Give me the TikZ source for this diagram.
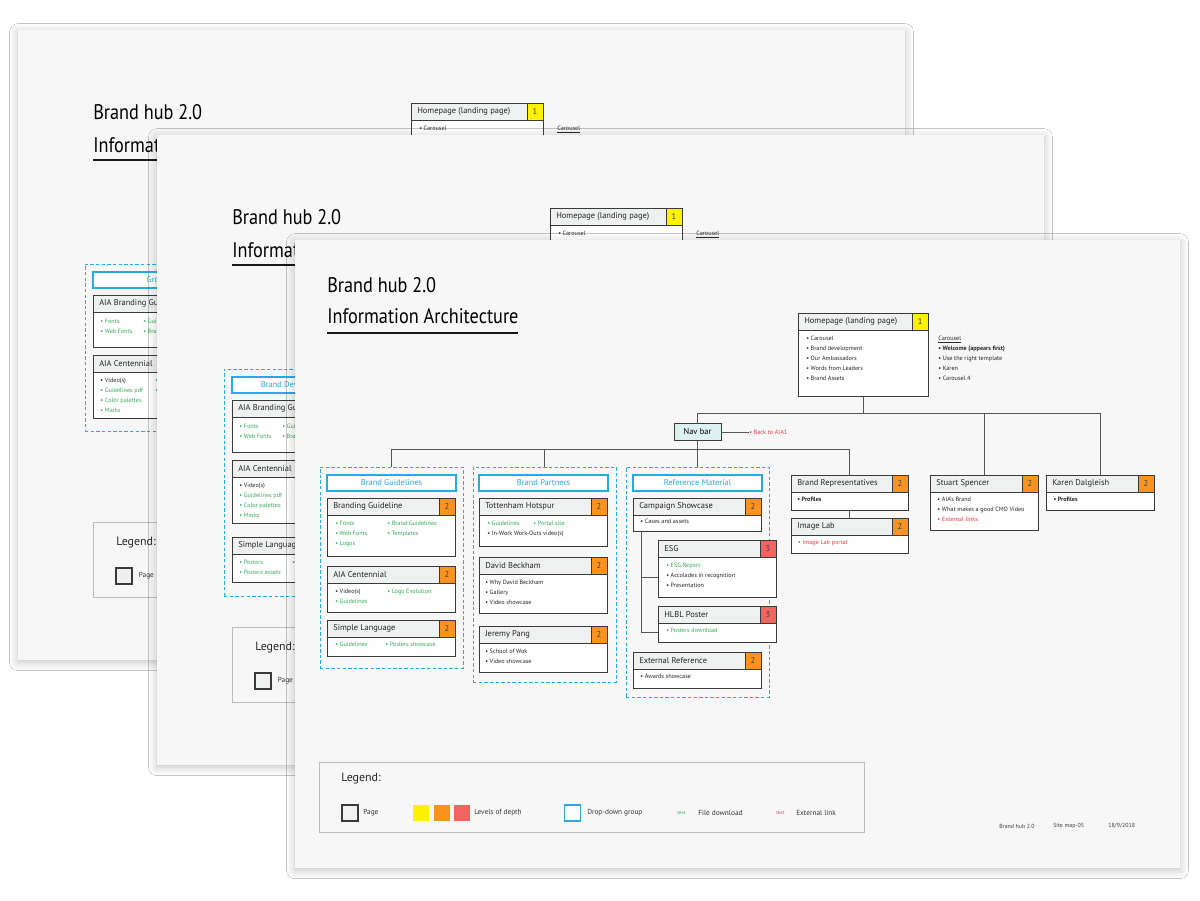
\documentclass[tikz,border=0pt]{standalone}
\usepackage{fontspec}
\setmainfont{PT Sans}
\newfontfamily\titlefont[FakeStretch=0.865]{PT Sans}
\usetikzlibrary{positioning, shadows.blur}

\definecolor{sheetgray}{HTML}{F7F7F7}
\definecolor{headgray}{HTML}{EFF0F0}
\definecolor{pgline}{HTML}{3A3A3A}
\definecolor{connline}{HTML}{555555}
\definecolor{lvlone}{HTML}{FFF200}
\definecolor{lvltwo}{HTML}{F7931E}
\definecolor{lvlthree}{HTML}{F26460}
\definecolor{ddcyan}{HTML}{29ABE2}
\definecolor{navcyan}{HTML}{DDF1F3}
\definecolor{dlgreen}{HTML}{39A85A}
\definecolor{extred}{HTML}{EE3B45}
\definecolor{legline}{HTML}{BDBDBD}

\newcommand{\filedl}[1]{\textcolor{dlgreen}{#1}}
\newcommand{\extlink}[1]{\textcolor{extred}{#1}}

\tikzset{
  sheetshadow/.style={blur shadow={shadow xshift=0pt, shadow yshift=-1.5pt, shadow blur radius=6pt, shadow opacity=25}},
  titletext/.style={anchor=west, inner sep=0pt, font=\titlefont\fontsize{15}{18}\selectfont, text=black},
  titlebar/.style={line width=2pt, draw=black!90},
  pghead/.style={draw=pgline, fill=headgray, line width=0.7pt, outer sep=0pt, inner sep=0pt, minimum height=0.425cm},
  pgtitle/.style={anchor=west, inner xsep=0.15cm, inner ysep=0pt, font=\fontsize{6}{7}\selectfont, text=black!85},
  lvlcell/.style={draw=pgline, line width=0.7pt, outer sep=0pt, inner sep=0pt, minimum width=0.4cm, minimum height=0.425cm, font=\fontsize{6}{7}\selectfont, text=black!75},
  pgbody/.style={draw=pgline, fill=white, line width=0.7pt, outer sep=0pt, inner sep=0pt},
  items/.style={align=left, inner sep=0pt, font=\fontsize{4.4}{7.1}\selectfont, text=black!85},
  ddgroup/.style={draw=ddcyan, line width=0.7pt, dash pattern=on 2.4pt off 1.6pt, inner sep=0pt, outer sep=0pt},
  ddhead/.style={draw=ddcyan, line width=0.9pt, fill=white, minimum width=3.225cm, minimum height=0.4cm, inner sep=0pt, outer sep=0pt, font=\fontsize{6}{7}\selectfont, text=ddcyan},
  navbox/.style={draw=pgline, fill=navcyan, line width=0.7pt, minimum width=1.175cm, minimum height=0.425cm, inner sep=0pt, outer sep=0pt, font=\fontsize{6}{7}\selectfont},
  legendbox/.style={draw=legline, fill=sheetgray, line width=0.7pt, inner sep=0pt, anchor=north west},
  legtitle/.style={anchor=west, inner sep=0pt, font=\fontsize{8.5}{10}\selectfont, text=black!85},
  legtext/.style={anchor=west, inner sep=0pt, font=\fontsize{5.2}{6}\selectfont, text=black!80},
  legsq/.style={minimum size=0.4cm, inner sep=0pt},
  foot/.style={anchor=west, inner sep=0pt, font=\fontsize{4.2}{5}\selectfont, text=black!75}
}

% page box: name, top left, header width, body height, title, level colour, level
\newcommand{\pgbox}[7]{%
  \node[pghead, minimum width=#3, anchor=north west,
        label={[pgtitle]west:{#5}}] (#1) at #2 {};
  \node[lvlcell, fill=#6, anchor=north west] (#1n) at (#1.north east) {#7};
  \node[pgbody, minimum width=#3+0.4cm, minimum height=#4, anchor=north west] (#1b) at (#1.south west) {};
}

% older sheet behind: shift, prefix, group title, group height, extra boxes
\newcommand{\oldsheet}[5]{%
  \begin{scope}[shift={#1}]
    \fill[sheetgray, sheetshadow] (0,0) rectangle (887,630);
    \node[titletext] (#2ttl) at (75,82) {Brand hub 2.0};
    \node[titletext] (#2sub) at (75,115) {Information Architecture};
    \draw[titlebar] (75,130) -- (266,130);
    \pgbox{#2home}{(393,73)}{2.9cm}{1.65cm}{Homepage (landing page)}{lvlone}{1}
    \node[items, below right=0.15cm and 0.2cm of #2homeb.north west] (#2homet) {• Carousel};
    \node[items, below right=0.15cm and 0.35cm of #2homeb.north east] (#2note) {\underline{Carousel}};
    \node[ddgroup, minimum width=3.575cm, minimum height=#4, anchor=north west] (#2grp) at (67,234) {};
    \node[ddhead, anchor=north west] (#2grph) at (75,242) {#3};
    \pgbox{#2bg}{(75,265)}{2.8cm}{0.875cm}{AIA Branding Guideline}{lvltwo}{2}
    \node[items, below right=0.17cm and 0.18cm of #2bgb.north west] (#2bgt) {\filedl{• Fonts}\\\filedl{• Web Fonts}};
    \node[items, below right=0.17cm and 1.25cm of #2bgb.north west] (#2bgu) {\filedl{• Guidelines}\\\filedl{• Brand Guidelines}};
    \pgbox{#2aia}{(75,325)}{2.8cm}{1.15cm}{AIA Centennial}{lvltwo}{2}
    \node[items, below right=0.15cm and 0.18cm of #2aiab.north west] (#2aiat) {• Video(s)\\\filedl{• Guidelines pdf}\\\filedl{• Color palettes}\\\filedl{• Marks}};
    \node[items, below right=0.15cm and 1.55cm of #2aiab.north west] (#2aiau) {\filedl{• Logo Evolution}\\\filedl{• Guidelines}};
    #5
    \node[legendbox, minimum width=13.625cm, minimum height=1.875cm] (#2leg) at (75,492) {};
    \node[legtitle] (#2legt) at (98,513) {Legend:};
    \node[legsq, draw=pgline, fill=headgray, line width=0.8pt] (#2lpage) at (106,546) {};
    \node[legtext, right=0.15cm of #2lpage] (#2lpaget) {Page};
  \end{scope}}

\begin{document}
\begin{tikzpicture}[x=0.025cm, y=-0.025cm, conn/.style={draw=connline, line width=0.6pt}]
\useasboundingbox (0,0) rectangle (1200,900);
\fill[white] (0,0) rectangle (1200,900);

\oldsheet{(18,30)}{a}{Group}{4.175cm}{}
\oldsheet{(157,135)}{b}{Brand Development}{5.675cm}{%
  \pgbox{bsl}{(75,402)}{2.8cm}{0.7cm}{Simple Language}{lvltwo}{2}
  \node[items, below right=0.15cm and 0.18cm of bslb.north west] (bslt) {\filedl{• Posters}\\\filedl{• Posters assets}};
  \node[items, below right=0.15cm and 1.5cm of bslb.north west] (bslu) {\filedl{• Posters showcase}};}

% front sheet
\fill[sheetgray, sheetshadow] (295,240) rectangle (1180,868);
\node[titletext] (ttl) at (327,285) {Brand hub 2.0};
\node[titletext] (sub) at (327,316) {Information Architecture};
\draw[titlebar] (327,333) -- (518,333);

% homepage and nav bar
\pgbox{home}{(798,313)}{2.85cm}{1.65cm}{Homepage (landing page)}{lvlone}{1}
\node[items, below right=0.15cm and 0.2cm of homeb.north west] (homet) {• Carousel\\• Brand development\\• Our Ambassadors\\• Words from Leaders\\• Brand Assets};
\node[items, below right=0.15cm and 0.25cm of homeb.north east] (note) {\underline{Carousel}\\\textbf{• Welcome (appears first)}\\• Use the right template\\• Karen\\• Carousel 4};
\node[navbox] (nav) at (697.5,432) {Nav bar};
\node[items, text=extred, anchor=west] (back) at (749,432) {• Back to AIA1};
\coordinate (upper) at (0,413);
\coordinate (lower) at (0,449);

% brand guidelines
\node[ddgroup, minimum width=3.575cm, minimum height=5.025cm, anchor=north west] (gguide) at (320,467) {};
\node[ddhead, anchor=north west] (gguideh) at (327,475) {Brand Guidelines};
\pgbox{bgl}{(327,498)}{2.8cm}{1.025cm}{Branding Guideline}{lvltwo}{2}
\node[items, below right=0.15cm and 0.2cm of bglb.north west] (bglt) {\filedl{• Fonts}\\\filedl{• Web Fonts}\\\filedl{• Logos}};
\node[items, below right=0.15cm and 1.5cm of bglb.north west] (bglu) {\filedl{• Brand Guidelines}\\\filedl{• Templates}};
\pgbox{aia}{(327,566)}{2.8cm}{0.725cm}{AIA Centennial}{lvltwo}{2}
\node[items, below right=0.15cm and 0.2cm of aiab.north west] (aiat) {• Video(s)\\\filedl{• Guidelines}};
\node[items, below right=0.15cm and 1.5cm of aiab.north west] (aiau) {\filedl{• Logo Evolution}};
\pgbox{sl}{(327,620)}{2.8cm}{0.475cm}{Simple Language}{lvltwo}{2}
\node[items, below right=0.13cm and 0.2cm of slb.north west] (slt) {\filedl{• Guidelines}};
\node[items, below right=0.13cm and 1.45cm of slb.north west] (slu) {\filedl{• Posters showcase}};

% brand partners
\node[ddgroup, minimum width=3.575cm, minimum height=5.375cm, anchor=north west] (gpart) at (473,467) {};
\node[ddhead, anchor=north west] (gparth) at (479,475) {Brand Partners};
\pgbox{toh}{(479,498)}{2.8cm}{0.775cm}{Tottenham Hotspur}{lvltwo}{2}
\node[items, below right=0.15cm and 0.2cm of tohb.north west] (toht) {\filedl{• Guidelines}\\• In-Work Work-Outs video(s)};
\node[items, below right=0.15cm and 1.35cm of tohb.north west] (tohu) {\filedl{• Portal site}};
\pgbox{db}{(479,557)}{2.8cm}{0.975cm}{David Beckham}{lvltwo}{2}
\node[items, below right=0.15cm and 0.15cm of dbb.north west] (dbt) {• Why David Beckham\\• Gallery\\• Video showcase};
\pgbox{jp}{(479,626)}{2.8cm}{0.725cm}{Jeremy Pang}{lvltwo}{2}
\node[items, below right=0.15cm and 0.15cm of jpb.north west] (jpt) {• School of Wok\\• Video showcase};

% reference material
\node[ddgroup, minimum width=3.575cm, minimum height=5.75cm, anchor=north west] (gref) at (626,467) {};
\node[ddhead, anchor=north west] (grefh) at (633,475) {Reference Material};
\pgbox{cs}{(633,498)}{2.8cm}{0.4cm}{Campaign Showcase}{lvltwo}{2}
\node[items, below right=0.1cm and 0.18cm of csb.north west] (cst) {• Cases and assets};
\pgbox{esg}{(658,540)}{2.55cm}{1.0cm}{ESG}{lvlthree}{3}
\node[items, below right=0.15cm and 0.2cm of esgb.north west] (esgt) {\filedl{• ESG Report}\\• Accolades in recognition\\• Presentation};
\pgbox{hlbl}{(658,606)}{2.55cm}{0.475cm}{HLBL Poster}{lvlthree}{3}
\node[items, below right=0.13cm and 0.2cm of hlblb.north west] (hlblt) {\filedl{• Posters download}};
\pgbox{er}{(633,652)}{2.8cm}{0.475cm}{External Reference}{lvltwo}{2}
\node[items, below right=0.13cm and 0.18cm of erb.north west] (ert) {• Awards showcase};

% representatives and ambassadors
\pgbox{br}{(791,475)}{2.525cm}{0.45cm}{Brand Representatives}{lvltwo}{2}
\node[items, below right=0.12cm and 0.15cm of brb.north west] (brt) {\textbf{• Profiles}};
\pgbox{il}{(791,518)}{2.525cm}{0.45cm}{Image Lab}{lvltwo}{2}
\node[items, below right=0.12cm and 0.17cm of ilb.north west] (ilt) {\extlink{• Image Lab portal}};
\pgbox{ss}{(930,475)}{2.3cm}{0.95cm}{Stuart Spencer}{lvltwo}{2}
\node[items, below right=0.12cm and 0.18cm of ssb.north west] (sst) {• AIA's Brand\\• What makes a good CMO Video\\\extlink{• External links}};
\pgbox{kd}{(1046,475)}{2.3cm}{0.45cm}{Karen Dalgleish}{lvltwo}{2}
\node[items, below right=0.12cm and 0.18cm of kdb.north west] (kdt) {\textbf{• Profiles}};

% connectors
\draw[conn] (homeb.south) -- (homeb.south |- upper);
\draw[conn] (nav.north) -- (nav.north |- upper) -- (kdb.north |- upper) -- (kdb.north |- kd.north);
\draw[conn] (ssb.north |- upper) -- (ssb.north |- ss.north);
\draw[conn] (nav.south) -- (gref.north);
\draw[conn] (gguide.north) -- (gguide.north |- lower) -- (brb.north |- lower) -- (brb.north |- br.north);
\draw[conn] (gpart.north) -- (gpart.north |- lower);
\draw[conn] (nav.east) -- (back.west);
\draw[conn] (brb.south) -- (ilb.north |- il.north);
\draw[conn] ([xshift=0.2cm]csb.south west) |- (esgb.west);
\draw[conn] ([xshift=0.2cm]csb.south west) |- (hlblb.west);

% legend
\node[legendbox, minimum width=13.625cm, minimum height=1.75cm] (legend) at (319,762) {};
\node[legtitle] (legt) at (341,779) {Legend:};
\node[legsq, draw=pgline, fill=headgray, line width=0.8pt] (lpage) at (350,813) {};
\node[legtext] (lpaget) at (363,813) {Page};
\node[legsq, fill=lvlone] (lone) at (421,813) {};
\node[legsq, fill=lvltwo] (ltwo) at (441.5,813) {};
\node[legsq, fill=lvlthree] (lthree) at (462,813) {};
\node[legtext] (ldepth) at (474,813) {Levels of depth};
\node[legsq, draw=ddcyan, fill=white, line width=0.8pt] (ldd) at (572.5,813) {};
\node[legtext] (lddt) at (587,813) {Drop-down group};
\node[legtext, font=\fontsize{3.5}{4}\selectfont, text=dlgreen] (lfd) at (677,813) {text};
\node[legtext] (lfdt) at (698,813) {File download};
\node[legtext, font=\fontsize{3.5}{4}\selectfont, text=extred] (lel) at (776,813) {text};
\node[legtext] (lelt) at (796,813) {External link};

% footer
\node[foot] (f1) at (999,826) {Brand hub 2.0};
\node[foot] (f2) at (1053,826) {Site map-05};
\node[foot] (f3) at (1108,826) {18/9/2018};
\end{tikzpicture}
\end{document}
